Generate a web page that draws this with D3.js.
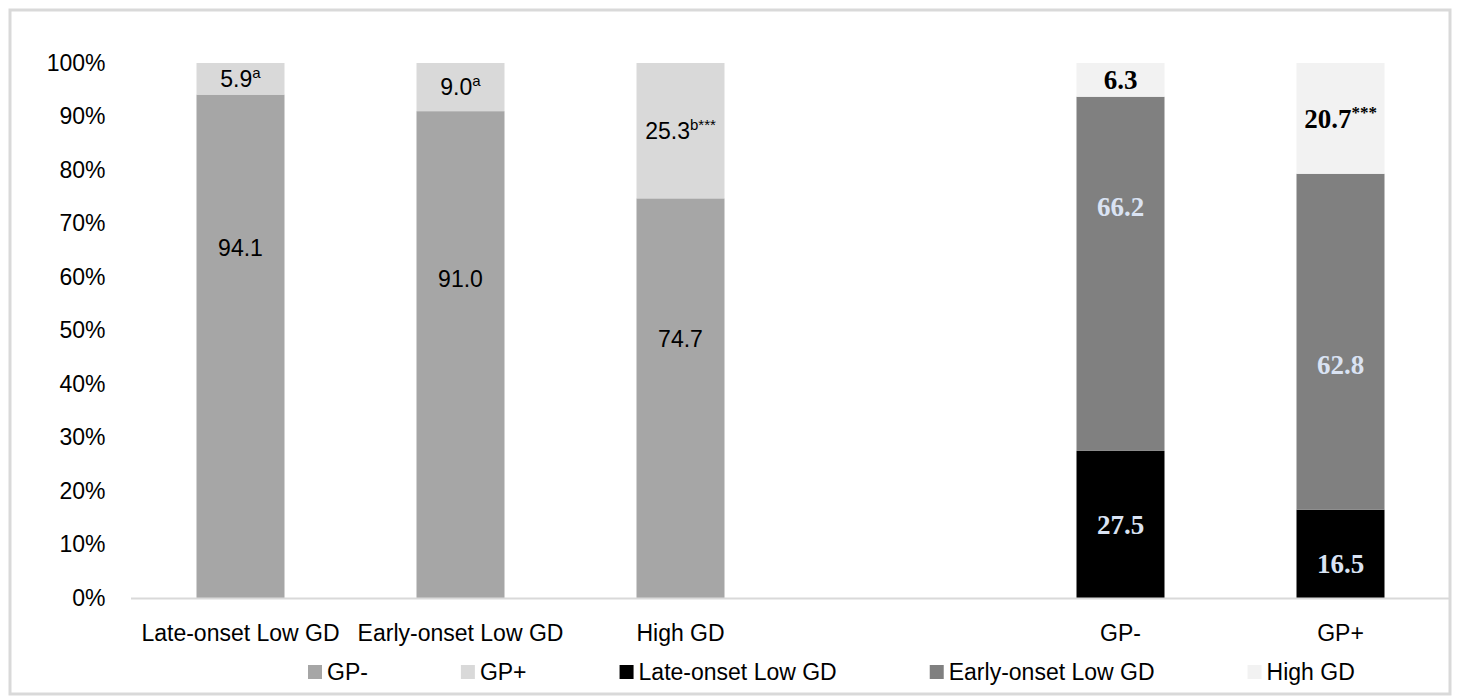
<!DOCTYPE html>
<html>
<head>
<meta charset="utf-8">
<script src="https://cdn.jsdelivr.net/npm/d3@7"></script>
<style>
  html, body { margin: 0; padding: 0; background: #fff; }
  svg { display: block; }
</style>
</head>
<body>
<div id="chart"></div>
<script>
// x slots (the blank one is the gap between the two panels)
const categories = ["Late-onset Low GD", "Early-onset Low GD", "High GD", "", "GP-", "GP+"];

// left panel: % GP- / GP+ within each trajectory
const trajectories = ["Late-onset Low GD", "Early-onset Low GD", "High GD"];
const gpNeg = [94.1, 91.0, 74.7];
const gpPos = [5.9, 9.0, 25.3];
const gpPosSup = ["a", "a", "b***"];

// right panel: % trajectory within GP- / GP+
const gpGroups = ["GP-", "GP+"];
const lateOnset = [27.5, 16.5];
const earlyOnset = [66.2, 62.8];
const highGD = [6.3, 20.7];
const highGDSup = ["", "***"];

const yTicks = [0, 10, 20, 30, 40, 50, 60, 70, 80, 90, 100];

// where the labels were dragged to in the original (value units), null = centred
const labelAt = {
  gpNeg: [65.4, 59.6, 48.4],
  gpPos: [null, null, null],
  lateOnset: [null, 6.5],
  earlyOnset: [73.1, 43.6],
  highGD: [null, null]
};

const width = 1460, height = 697;
const sans = "'Liberation Sans', Arial, sans-serif";
const serif = "'Liberation Serif', 'Times New Roman', serif";

const svg = d3.select("#chart").append("svg")
  .attr("width", width)
  .attr("height", height);

// outer frame
svg.append("rect")
  .attr("x", 10).attr("y", 10)
  .attr("width", 1440).attr("height", 684)
  .attr("fill", "#fff")
  .attr("stroke", "#d9d9d9")
  .attr("stroke-width", 3);

const x = d3.scaleBand()
  .domain(categories)
  .range([130.5, 1450.5])
  .padding(0);

const y = d3.scaleLinear()
  .domain([0, 100])
  .range([598, 63]);

const barW = x.bandwidth() * 0.4;
const barX = c => x(c) + (x.bandwidth() - barW) / 2;

// y axis (labels only)
svg.append("g")
  .attr("transform", "translate(130.5,0)")
  .call(d3.axisLeft(y).tickValues(yTicks).tickSize(0).tickPadding(25).tickFormat(d => d + "%"))
  .call(g => g.select(".domain").remove())
  .call(g => g.selectAll("text")
    .attr("font-family", sans)
    .attr("font-size", 23)
    .attr("fill", "#000"));

// series built from the arrays
const leftSeries = [
  { key: "GP-", values: gpNeg, color: "#a6a6a6", at: labelAt.gpNeg, sup: null },
  { key: "GP+", values: gpPos, color: "#d9d9d9", at: labelAt.gpPos, sup: gpPosSup }
];
const rightSeries = [
  { key: "Late-onset Low GD", values: lateOnset, color: "#000000", at: labelAt.lateOnset, sup: null, text: "#dae3f3" },
  { key: "Early-onset Low GD", values: earlyOnset, color: "#808080", at: labelAt.earlyOnset, sup: null, text: "#dae3f3" },
  { key: "High GD", values: highGD, color: "#f2f2f2", at: labelAt.highGD, sup: highGDSup, text: "#000" }
];

function segments(groups, series) {
  const out = [];
  groups.forEach((g, i) => {
    let base = 0;
    series.forEach(s => {
      const v = s.values[i];
      out.push({ group: g, i, s, y0: base, y1: base + v, v });
      base += v;
    });
  });
  return out;
}

const leftSegs = segments(trajectories, leftSeries);
const rightSegs = segments(gpGroups, rightSeries);

svg.append("g").selectAll("rect")
  .data(leftSegs.concat(rightSegs))
  .join("rect")
  .attr("x", d => barX(d.group))
  .attr("y", d => y(d.y1))
  .attr("width", barW)
  .attr("height", d => y(d.y0) - y(d.y1))
  .attr("fill", d => d.s.color);

// x axis line + category labels
svg.append("g")
  .attr("transform", "translate(0,598)")
  .call(d3.axisBottom(x).tickSize(0).tickSizeOuter(0).tickPadding(27))
  .call(g => g.select(".domain").attr("stroke", "#d9d9d9").attr("stroke-width", 2))
  .call(g => g.selectAll("text")
    .attr("font-family", sans)
    .attr("font-size", 23)
    .attr("fill", "#000"));

// data labels
function labelY(d) {
  const at = d.s.at[d.i];
  return y(at == null ? (d.y0 + d.y1) / 2 : at);
}

const leftLabels = svg.append("g").selectAll("text")
  .data(leftSegs)
  .join("text")
  .attr("x", d => barX(d.group) + barW / 2)
  .attr("y", d => labelY(d))
  .attr("dy", "0.35em")
  .attr("text-anchor", "middle")
  .attr("font-family", sans)
  .attr("font-size", 23)
  .attr("fill", "#000");
leftLabels.append("tspan").text(d => d.v.toFixed(1));
leftLabels.filter(d => d.s.sup && d.s.sup[d.i])
  .append("tspan")
  .attr("font-size", 15)
  .attr("dy", -9)
  .text(d => d.s.sup[d.i]);

const rightLabels = svg.append("g").selectAll("text")
  .data(rightSegs)
  .join("text")
  .attr("x", d => barX(d.group) + barW / 2)
  .attr("y", d => labelY(d))
  .attr("dy", "0.35em")
  .attr("text-anchor", "middle")
  .attr("font-family", serif)
  .attr("font-weight", "bold")
  .attr("font-size", 27)
  .attr("fill", d => d.s.text);
rightLabels.append("tspan").text(d => d.v.toFixed(1));
rightLabels.filter(d => d.s.sup && d.s.sup[d.i])
  .append("tspan")
  .attr("font-size", 17)
  .attr("dy", -10)
  .text(d => d.s.sup[d.i]);

// legend
const legendItems = leftSeries.concat(rightSeries).map(s => ({ key: s.key, color: s.color }));
const legend = svg.append("g").attr("transform", "translate(308,672)");
let lx = 0;
legendItems.forEach(item => {
  const g = legend.append("g").attr("transform", `translate(${lx},0)`);
  g.append("rect")
    .attr("x", 0).attr("y", -7)
    .attr("width", 14).attr("height", 14)
    .attr("fill", item.color);
  const t = g.append("text")
    .attr("x", 19)
    .attr("dy", "0.35em")
    .attr("font-family", sans)
    .attr("font-size", 23)
    .attr("fill", "#000")
    .text(item.key);
  lx += 19 + t.node().getComputedTextLength() + 93;
});
</script>
</body>
</html>
